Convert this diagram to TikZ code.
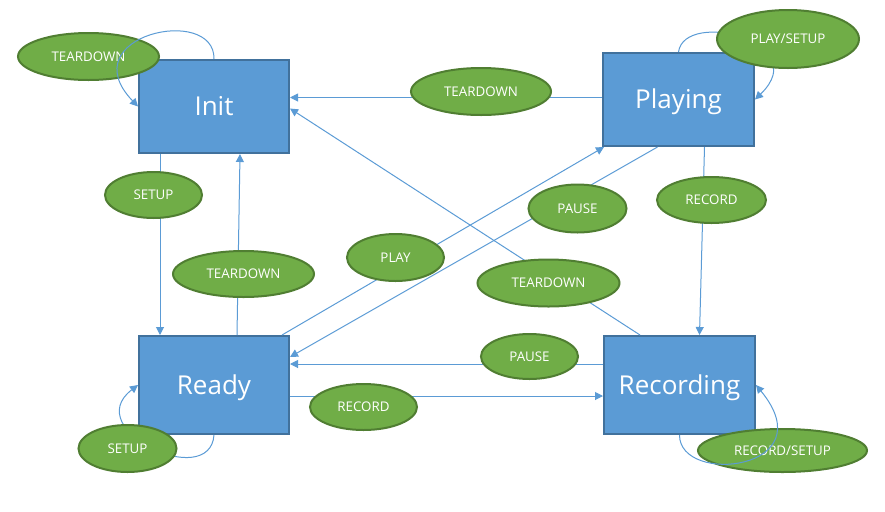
\documentclass[tikz,border=0pt]{standalone}
\usepackage{fontspec}
\setmainfont{Open Sans}
\usetikzlibrary{arrows.meta,shapes.geometric,calc}
\definecolor{boxfill}{HTML}{5B9BD5}
\definecolor{boxline}{HTML}{41719C}
\definecolor{lblfill}{HTML}{70AD47}
\definecolor{lblline}{HTML}{507E32}
\definecolor{edgecol}{HTML}{5B9BD5}
\newcommand\stname[1]{\raisebox{-7pt}[0pt][0pt]{#1}}
\begin{document}
\begin{tikzpicture}[x=0.75pt,y=-0.75pt,
  statebox/.style={draw=boxline,line width=1.5pt,fill=boxfill,text=white,
    inner sep=0pt,font=\fontsize{19.5}{22}\selectfont},
  lbl/.style={ellipse,draw=lblline,line width=1.5pt,fill=lblfill,text=white,
    inner sep=0pt,font=\fontsize{10}{12}\selectfont},
  conn/.style={draw=edgecol,line width=0.75pt,-{Triangle[length=6pt,width=6pt]}}]
\useasboundingbox (0,0) rectangle (885,511);
% states
\node[statebox,minimum width=112.5pt,minimum height=69.75pt] (init) at (214,106.5) {\stname{Init}};
\node[statebox,minimum width=113.25pt,minimum height=69.75pt] (playing) at (678.5,99.5) {\stname{Playing}};
\node[statebox,minimum width=112.5pt,minimum height=73.5pt] (ready) at (214,385) {\stname{Ready}};
\node[statebox,minimum width=113.25pt,minimum height=73.5pt] (recording) at (679.5,385) {\stname{Recording}};
% transitions
\draw[conn] ($(init.south)+(-54,0)$) -- ($(ready.north)+(-54,0)$);
\draw[conn] ($(ready.north)+(23,0)$) -- ($(init.south)+(26,0)$);
\draw[conn] ($(playing.west)+(0,-2)$) -- ($(init.east)+(0,-9)$);
\draw[conn] ($(recording.north)+(-39.5,0)$) -- ($(init.east)+(0,2)$);
\draw[conn] ($(ready.north)+(68,0)$) -- ($(playing.south west)+(2,0)$);
\draw[conn] ($(playing.south)+(-21,0)$) -- ($(ready.east)+(0,-28)$);
\draw[conn] ($(recording.west)+(0,-21)$) -- ($(ready.east)+(0,-21)$);
\draw[conn] ($(ready.east)+(0,11)$) -- ($(recording.west)+(0,11)$);
\draw[conn] ($(playing.south)+(26,0)$) -- ($(recording.north)+(20,0)$);
\draw[conn] (playing.north) .. controls +(6,-43) and +(60,-58) .. (playing.east);
\draw[conn] (ready.south) .. controls +(-4,56) and +(-59,45) .. (ready.west);
% labels
\node[lbl,minimum width=105.75pt,minimum height=35.25pt] (tdA) at (88.5,56.5) {TEARDOWN};
\node[lbl,minimum width=72.75pt,minimum height=34.5pt] (setupA) at (153.5,195) {SETUP};
\node[lbl,minimum width=105.75pt,minimum height=34.5pt] (tdB) at (243.5,274) {TEARDOWN};
\node[lbl,minimum width=72.75pt,minimum height=35.25pt] (play) at (395.5,257.5) {PLAY};
\node[lbl,minimum width=73.5pt,minimum height=36pt] (pauseA) at (577.5,208.5) {PAUSE};
\node[lbl,minimum width=106.5pt,minimum height=35.25pt] (tdC) at (548.5,283) {TEARDOWN};
\node[lbl,minimum width=105pt,minimum height=35.25pt] (tdD) at (481,91.5) {TEARDOWN};
\node[lbl,minimum width=106.5pt,minimum height=43.5pt] (playsetup) at (788,39) {PLAY/SETUP};
\node[lbl,minimum width=81.75pt,minimum height=34.5pt] (recA) at (711.5,200) {RECORD};
\node[lbl,minimum width=72.75pt,minimum height=33.75pt] (pauseB) at (529.5,356.5) {PAUSE};
\node[lbl,minimum width=80.25pt,minimum height=34.5pt] (recB) at (363.5,407) {RECORD};
\node[lbl,minimum width=73.5pt,minimum height=35.25pt] (setupB) at (127.5,448.5) {SETUP};
\node[lbl,minimum width=126.75pt,minimum height=32.25pt] (recsetup) at (782.5,450.5) {RECORD/SETUP};
% self loops drawn over their labels
\draw[conn] (init.north) .. controls +(1,-55) and +(-68,-71) .. (init.west);
\draw[conn] (recording.south) .. controls +(0,51) and +(70,85) .. (recording.east);
\end{tikzpicture}
\end{document}
